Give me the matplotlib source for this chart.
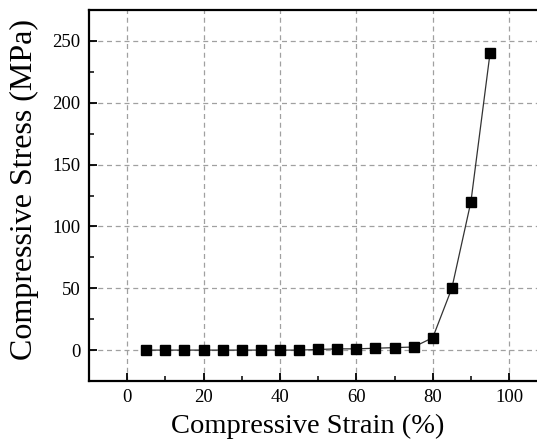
import numpy as np
import matplotlib.pyplot as plt
from matplotlib.ticker import MultipleLocator

# ============================================================
# DATA
# ============================================================
strain = [5, 10, 15, 20, 25, 30, 35, 40, 45, 50, 55, 60, 65, 70, 75, 80, 85, 90, 95]
stress = [0, 0, 0, 0, 0, 0, 0, 0, 0, 0.5, 1, 1, 1.5, 2, 2.5, 10, 50, 120, 240]

x_ticks = [0, 20, 40, 60, 80, 100]
y_ticks = [0, 50, 100, 150, 200, 250]

# ============================================================
# PLOT
# ============================================================
plt.rcParams['font.family'] = ['Liberation Serif', 'DejaVu Serif']

fig = plt.figure(figsize=(5.37, 4.45), dpi=100)
# the right side of the frame is cut off in the original picture
ax = fig.add_axes([0.1657, 0.1438, 0.8535, 0.8337])

ax.plot(strain, stress, color="#333333", linewidth=0.9,
        marker="s", markersize=6.5, markerfacecolor="black",
        markeredgecolor="black", zorder=3)

ax.set_xlim(-10, 110)
ax.set_ylim(-25, 275)
ax.set_xticks(x_ticks)
ax.set_yticks(y_ticks)
ax.xaxis.set_minor_locator(MultipleLocator(10))
ax.yaxis.set_minor_locator(MultipleLocator(25))

ax.grid(True, which="major", color="#a0a0a0", linestyle=(0, (4, 3)), linewidth=0.9)
ax.set_axisbelow(True)

for s in ax.spines.values():
    s.set_linewidth(1.6)
    s.set_color("black")

ax.tick_params(which="major", direction="in", length=6, width=1.3,
               labelsize=13.5, pad=6, colors="black")
ax.tick_params(which="minor", direction="in", length=3.5, width=1.1)
ax.tick_params(top=False, right=False, which="both")

ax.set_xlabel("Compressive Strain (%)", fontsize=20.5)
ax.set_ylabel("Compressive Stress (MPa)", fontsize=23)
ax.xaxis.set_label_coords(0.478, -0.089)
ax.yaxis.set_label_coords(-0.109, 0.515)

plt.savefig("out.png", dpi=100)
